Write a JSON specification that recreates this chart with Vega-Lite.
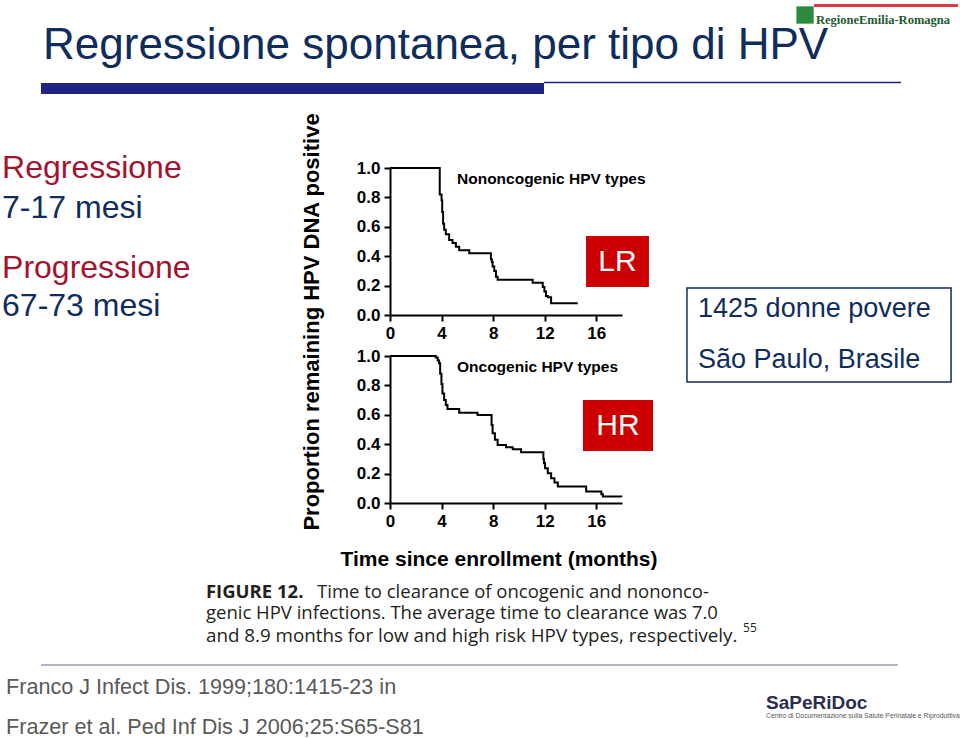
{
  "$schema": "https://vega.github.io/schema/vega-lite/v6.json",
  "background": "white",
  "padding": {"left": 2, "top": 4, "right": 0, "bottom": 0},
  "bounds": "flush",
  "spacing": 41,
  "config": {
    "view": {"stroke": null},
    "axis": {"grid": false, "domainColor": "black", "domainWidth": 2, "tickColor": "black", "tickWidth": 2, "tickSize": 6,
      "labelFont": "Liberation Sans", "labelFontWeight": "bold", "labelFontSize": 17, "labelColor": "black", "labelPadding": 4,
      "labelFlush": false, "labelOverlap": false},
    "text": {"font": "Liberation Sans"}
  },
  "datasets": {
    "nononcogenic": [
      {"month": 0, "proportion": 1.0}, {"month": 3.86, "proportion": 0.82}, {"month": 4.0, "proportion": 0.78},
      {"month": 4.05, "proportion": 0.70}, {"month": 4.12, "proportion": 0.62}, {"month": 4.2, "proportion": 0.58},
      {"month": 4.33, "proportion": 0.55}, {"month": 4.59, "proportion": 0.51}, {"month": 4.85, "proportion": 0.49},
      {"month": 5.11, "proportion": 0.465}, {"month": 5.37, "proportion": 0.44}, {"month": 6.15, "proportion": 0.42},
      {"month": 7.83, "proportion": 0.38}, {"month": 7.9, "proportion": 0.36}, {"month": 7.96, "proportion": 0.33},
      {"month": 8.09, "proportion": 0.30}, {"month": 8.22, "proportion": 0.26}, {"month": 8.35, "proportion": 0.24},
      {"month": 11.07, "proportion": 0.22}, {"month": 11.85, "proportion": 0.19}, {"month": 11.98, "proportion": 0.16},
      {"month": 12.1, "proportion": 0.13}, {"month": 12.24, "proportion": 0.12}, {"month": 12.5, "proportion": 0.08},
      {"month": 14.57, "proportion": 0.08}
    ],
    "oncogenic": [
      {"month": 0, "proportion": 1.0}, {"month": 3.55, "proportion": 0.99}, {"month": 3.7, "proportion": 0.97},
      {"month": 3.81, "proportion": 0.95}, {"month": 3.89, "proportion": 0.88}, {"month": 3.99, "proportion": 0.81},
      {"month": 4.07, "proportion": 0.745}, {"month": 4.2, "proportion": 0.70}, {"month": 4.33, "proportion": 0.666},
      {"month": 4.46, "proportion": 0.64}, {"month": 5.37, "proportion": 0.614}, {"month": 6.79, "proportion": 0.598},
      {"month": 7.88, "proportion": 0.53}, {"month": 7.96, "proportion": 0.474}, {"month": 8.14, "proportion": 0.43},
      {"month": 8.35, "proportion": 0.395}, {"month": 9.0, "proportion": 0.379}, {"month": 9.52, "proportion": 0.366},
      {"month": 10.17, "proportion": 0.345}, {"month": 11.9, "proportion": 0.30}, {"month": 11.95, "proportion": 0.271},
      {"month": 12.03, "proportion": 0.237}, {"month": 12.24, "proportion": 0.203}, {"month": 12.5, "proportion": 0.169},
      {"month": 12.76, "proportion": 0.14}, {"month": 13.02, "proportion": 0.113}, {"month": 15.22, "proportion": 0.079},
      {"month": 16.4, "proportion": 0.06}, {"month": 16.52, "proportion": 0.045}, {"month": 17.95, "proportion": 0.04}
    ]
  },
  "vconcat": [
    {
      "width": 232,
      "height": 147,
      "resolve": {"axis": {"x": "independent", "y": "independent"}},
      "layer": [
        {
          "data": {"name": "nononcogenic"},
          "mark": {"type": "line", "interpolate": "step-after", "color": "black", "strokeWidth": 2},
          "encoding": {
            "x": {"field": "month", "type": "quantitative", "scale": {"domain": [0, 18], "nice": false}, "axis": {"values": [0, 4, 8, 12, 16], "title": null, "labelOverlap": false, "labelFlush": false, "orient": "bottom"}},
            "y": {"field": "proportion", "type": "quantitative", "scale": {"domain": [0, 1], "nice": false}, "axis": {"values": [0, 0.2, 0.4, 0.6, 0.8, 1], "format": ".1f", "title": null, "labelOverlap": false, "orient": "left"}}
          }
        },
        {
          "data": {"values": [{"t": "Nononcogenic HPV types"}]},
          "mark": {"type": "text", "align": "left", "baseline": "middle", "fontSize": 15.5, "fontWeight": "bold", "color": "black"},
          "encoding": {"x": {"datum": 5.198, "axis": null}, "y": {"datum": 0.9252, "axis": null}, "text": {"field": "t"}}
        },
        {
          "data": {"values": [{"t": "Proportion remaining HPV DNA positive"}]},
          "mark": {"type": "text", "align": "center", "baseline": "middle", "angle": 270, "fontSize": 22, "fontWeight": "bold", "color": "black"},
          "encoding": {"x": {"datum": -6.05, "axis": null}, "y": {"datum": -0.0476, "axis": null}, "text": {"field": "t"}}
        },
        {
          "data": {"values": [{"t": "Regressione spontanea, per tipo di HPV"}]},
          "mark": {"type": "text", "align": "left", "baseline": "alphabetic", "fontSize": 44, "color": "#0f2d5c"},
          "encoding": {"x": {"datum": -26.92, "axis": null}, "y": {"datum": 1.7415, "axis": null}, "text": {"field": "t"}}
        },
        {
          "data": {"values": [{}]},
          "mark": {"type": "rule", "color": "#1e2383", "strokeWidth": 11},
          "encoding": {"x": {"datum": -27.08, "axis": null}, "x2": {"datum": 11.95}, "y": {"datum": 1.5408, "axis": null}}
        },
        {
          "data": {"values": [{}]},
          "mark": {"type": "rule", "color": "#1e2383", "strokeWidth": 1.5},
          "encoding": {"x": {"datum": 11.95, "axis": null}, "x2": {"datum": 39.65}, "y": {"datum": 1.5816, "axis": null}}
        },
        {
          "data": {"values": [{}]},
          "mark": {"type": "rule", "color": "#d93a3a", "strokeWidth": 3},
          "encoding": {"x": {"datum": 32.9, "axis": null}, "x2": {"datum": 44.07}, "y": {"datum": 2.1054, "axis": null}}
        },
        {
          "data": {"values": [{}]},
          "mark": {"type": "point", "shape": "square", "filled": true, "size": 300, "color": "#2e8b3e", "opacity": 1},
          "encoding": {"x": {"datum": 32.2, "axis": null}, "y": {"datum": 2.0408, "axis": null}}
        },
        {
          "data": {"values": [{"t": "RegioneEmilia-Romagna"}]},
          "mark": {"type": "text", "align": "left", "baseline": "alphabetic", "font": "Liberation Serif", "fontSize": 12.5, "fontWeight": "bold", "color": "#23592f"},
          "encoding": {"x": {"datum": 33.05, "axis": null}, "y": {"datum": 1.9796, "axis": null}, "text": {"field": "t"}}
        },
        {
          "data": {"values": [{"t": "Regressione"}]},
          "mark": {"type": "text", "align": "left", "baseline": "alphabetic", "fontSize": 32, "color": "#a4122e"},
          "encoding": {"x": {"datum": -30.1, "axis": null}, "y": {"datum": 0.9286, "axis": null}, "text": {"field": "t"}}
        },
        {
          "data": {"values": [{"t": "7-17 mesi"}]},
          "mark": {"type": "text", "align": "left", "baseline": "alphabetic", "fontSize": 32, "color": "#0f2d5c"},
          "encoding": {"x": {"datum": -30.1, "axis": null}, "y": {"datum": 0.6599, "axis": null}, "text": {"field": "t"}}
        },
        {
          "data": {"values": [{"t": "Progressione"}]},
          "mark": {"type": "text", "align": "left", "baseline": "alphabetic", "fontSize": 32, "color": "#a4122e"},
          "encoding": {"x": {"datum": -30.1, "axis": null}, "y": {"datum": 0.2551, "axis": null}, "text": {"field": "t"}}
        },
        {
          "data": {"values": [{"t": "67-73 mesi"}]},
          "mark": {"type": "text", "align": "left", "baseline": "alphabetic", "fontSize": 32, "color": "#0f2d5c"},
          "encoding": {"x": {"datum": -30.1, "axis": null}, "y": {"datum": -0.0068, "axis": null}, "text": {"field": "t"}}
        },
        {
          "data": {"values": [{}]},
          "mark": {"type": "rect", "color": "#cc0000"},
          "encoding": {"x": {"datum": 15.21, "axis": null}, "x2": {"datum": 20.09}, "y": {"datum": 0.5374, "axis": null}, "y2": {"datum": 0.1905}}
        },
        {
          "data": {"values": [{"t": "LR"}]},
          "mark": {"type": "text", "align": "center", "baseline": "middle", "fontSize": 30, "color": "white"},
          "encoding": {"x": {"datum": 17.65, "axis": null}, "y": {"datum": 0.3639, "axis": null}, "text": {"field": "t"}}
        },
        {
          "data": {"values": [{}]},
          "mark": {"type": "rect", "filled": false, "color": "#0f2d5c", "strokeWidth": 1.5},
          "encoding": {"x": {"datum": 23.04, "axis": null}, "x2": {"datum": 43.53}, "y": {"datum": 0.1837, "axis": null}, "y2": {"datum": -0.4558}}
        },
        {
          "data": {"values": [{"t": "1425 donne povere"}]},
          "mark": {"type": "text", "align": "left", "baseline": "alphabetic", "fontSize": 27, "color": "#0f2d5c"},
          "encoding": {"x": {"datum": 23.9, "axis": null}, "y": {"datum": -0.0136, "axis": null}, "text": {"field": "t"}}
        },
        {
          "data": {"values": [{"t": "São Paulo, Brasile"}]},
          "mark": {"type": "text", "align": "left", "baseline": "alphabetic", "fontSize": 27, "color": "#0f2d5c"},
          "encoding": {"x": {"datum": 23.9, "axis": null}, "y": {"datum": -0.3605, "axis": null}, "text": {"field": "t"}}
        }
      ]
    },
    {
      "width": 232,
      "height": 147,
      "resolve": {"axis": {"x": "independent", "y": "independent"}},
      "layer": [
        {
          "data": {"name": "oncogenic"},
          "mark": {"type": "line", "interpolate": "step-after", "color": "black", "strokeWidth": 2},
          "encoding": {
            "x": {"field": "month", "type": "quantitative", "scale": {"domain": [0, 18], "nice": false},
              "axis": {"orient": "bottom", "values": [0, 4, 8, 12, 16], "labelOverlap": false, "labelFlush": false, "title": "Time since enrollment (months)", "titleFont": "Liberation Sans", "titleFontSize": 21, "titleFontWeight": "bold", "titleColor": "black", "titlePadding": 19, "titleX": 108.5}},
            "y": {"field": "proportion", "type": "quantitative", "scale": {"domain": [0, 1], "nice": false}, "axis": {"orient": "left", "values": [0, 0.2, 0.4, 0.6, 0.8, 1], "format": ".1f", "title": null, "labelOverlap": false}}
          }
        },
        {
          "data": {"values": [{"t": "Oncogenic HPV types"}]},
          "mark": {"type": "text", "align": "left", "baseline": "middle", "fontSize": 15.5, "fontWeight": "bold", "color": "black"},
          "encoding": {"x": {"datum": 5.198, "axis": null}, "y": {"datum": 0.9252, "axis": null}, "text": {"field": "t"}}
        },
        {
          "data": {"values": [{}]},
          "mark": {"type": "rect", "color": "#cc0000"},
          "encoding": {"x": {"datum": 14.97, "axis": null}, "x2": {"datum": 20.41}, "y": {"datum": 0.7007, "axis": null}, "y2": {"datum": 0.3537}}
        },
        {
          "data": {"values": [{"t": "HR"}]},
          "mark": {"type": "text", "align": "center", "baseline": "middle", "fontSize": 30, "color": "white"},
          "encoding": {"x": {"datum": 17.69, "axis": null}, "y": {"datum": 0.5272, "axis": null}, "text": {"field": "t"}}
        },
        {
          "data": {"values": [{"t": "FIGURE 12."}]},
          "mark": {"type": "text", "align": "left", "baseline": "alphabetic", "font": "Open Sans", "fontSize": 18.5, "fontWeight": "bold", "color": "#231f20"},
          "encoding": {"x": {"datum": -14.28, "axis": null}, "y": {"datum": -0.6463, "axis": null}, "text": {"field": "t"}}
        },
        {
          "data": {"values": [{"t": "Time to clearance of oncogenic and nononco-"}]},
          "mark": {"type": "text", "align": "left", "baseline": "alphabetic", "font": "Open Sans", "fontSize": 18.5, "color": "#231f20"},
          "encoding": {"x": {"datum": -5.66, "axis": null}, "y": {"datum": -0.6463, "axis": null}, "text": {"field": "t"}}
        },
        {
          "data": {"values": [{"t": "genic HPV infections. The average time to clearance was 7.0"}]},
          "mark": {"type": "text", "align": "left", "baseline": "alphabetic", "font": "Open Sans", "fontSize": 18.5, "color": "#231f20"},
          "encoding": {"x": {"datum": -14.28, "axis": null}, "y": {"datum": -0.7925, "axis": null}, "text": {"field": "t"}}
        },
        {
          "data": {"values": [{"t": "and 8.9 months for low and high risk HPV types, respectively."}]},
          "mark": {"type": "text", "align": "left", "baseline": "alphabetic", "font": "Open Sans", "fontSize": 18.8, "color": "#231f20"},
          "encoding": {"x": {"datum": -14.28, "axis": null}, "y": {"datum": -0.9422, "axis": null}, "text": {"field": "t"}}
        },
        {
          "data": {"values": [{"t": "55"}]},
          "mark": {"type": "text", "align": "left", "baseline": "alphabetic", "font": "Open Sans", "fontSize": 12, "color": "#231f20"},
          "encoding": {"x": {"datum": 27.39, "axis": null}, "y": {"datum": -0.8776, "axis": null}, "text": {"field": "t"}}
        },
        {
          "data": {"values": [{}]},
          "mark": {"type": "rule", "color": "#9a9ab8", "strokeWidth": 1.5},
          "encoding": {"x": {"datum": -27.08, "axis": null}, "x2": {"datum": 39.41}, "y": {"datum": -1.102, "axis": null}}
        },
        {
          "data": {"values": [{"t": "Franco J Infect Dis. 1999;180:1415-23 in"}]},
          "mark": {"type": "text", "align": "left", "baseline": "alphabetic", "fontSize": 21.6, "color": "#595959"},
          "encoding": {"x": {"datum": -29.79, "axis": null}, "y": {"datum": -1.2993, "axis": null}, "text": {"field": "t"}}
        },
        {
          "data": {"values": [{"t": "Frazer et al. Ped Inf Dis J 2006;25:S65-S81"}]},
          "mark": {"type": "text", "align": "left", "baseline": "alphabetic", "fontSize": 21.6, "color": "#595959"},
          "encoding": {"x": {"datum": -29.79, "axis": null}, "y": {"datum": -1.5714, "axis": null}, "text": {"field": "t"}}
        },
        {
          "data": {"values": [{"t": "SaPeRiDoc"}]},
          "mark": {"type": "text", "align": "left", "baseline": "alphabetic", "fontSize": 19, "fontWeight": "bold", "color": "#2b2d4f"},
          "encoding": {"x": {"datum": 29.17, "axis": null}, "y": {"datum": -1.4014, "axis": null}, "text": {"field": "t"}}
        },
        {
          "data": {"values": [{"t": "Centro di Documentazione sulla Salute Perinatale e Riproduttiva"}]},
          "mark": {"type": "text", "align": "left", "baseline": "alphabetic", "fontSize": 6.8, "color": "#555555"},
          "encoding": {"x": {"datum": 29.17, "axis": null}, "y": {"datum": -1.4626, "axis": null}, "text": {"field": "t"}}
        }
      ]
    }
  ]
}
